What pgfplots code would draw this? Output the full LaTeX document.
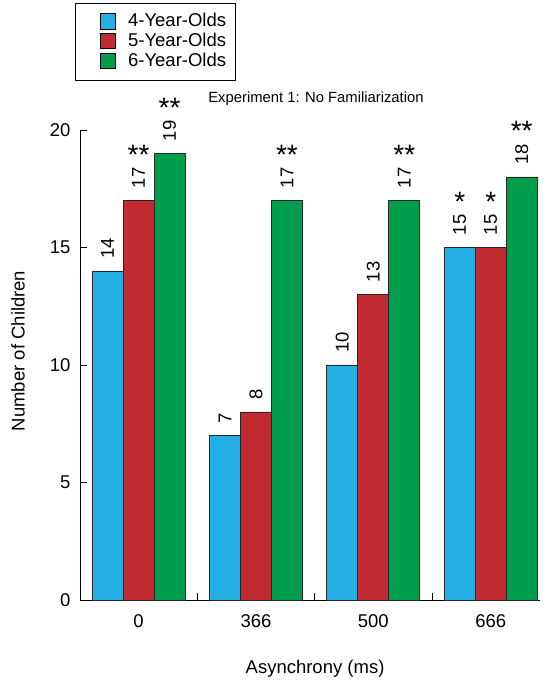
\documentclass[border=0pt]{standalone}
\usepackage{pgfplots}
\usepackage{pgfplotstable}
\pgfplotsset{compat=1.18}
\usepackage{fontspec}
\setmainfont{Liberation Sans}
\setsansfont{Liberation Sans}
\definecolor{cblue}{RGB}{35,175,228}
\definecolor{cred}{RGB}{192,42,48}
\definecolor{cgreen}{RGB}{0,158,76}
\newcommand{\bigfont}{\fontsize{18.5}{21}\selectfont}
\pgfplotstableread{
x y
0 14
1 7
2 10
3 15
}\fouryr
\pgfplotstableread{
x y
0 17
1 8
2 13
3 15
}\fiveyr
\pgfplotstableread{
x y
0 19
1 17
2 17
3 18
}\sixyr
\pgfplotsset{
  sqlegend/.style={legend image code/.code={
    \path (0pt,-9.5pt) (31pt,9.5pt);
    \filldraw[##1,draw=black,line width=0.7pt] (16pt,-6.5pt) rectangle (31pt,9pt);}},
  numlab/.style={nodes near coords, point meta=explicit symbolic,
    every node near coord/.append style={anchor=west, rotate=90, inner sep=0pt, xshift=12pt, font=\bigfont, black}},
  stars/.style={draw=none, fill=none, forget plot, nodes near coords,
    point meta=explicit symbolic,
    every node near coord/.append style={anchor=base, inner sep=0pt, yshift=36pt, font=\fontsize{28}{30}\selectfont, black}}
}
\begin{document}
\begin{tikzpicture}
\begin{axis}[
  scale only axis, width=460pt, height=470pt,
  xmin=-0.499, xmax=3.42, ymin=0, ymax=20,
  axis x line*=bottom, axis y line*=left,
  ybar=0pt, bar width=0.264,
  xtick={0.5,1.5,2.5}, xticklabels={},
  extra x ticks={0,1,2,3}, extra x tick labels={0,366,500,666},
  extra x tick style={major tick length=0pt},
  ytick={0,5,10,15,20},
  tick align=inside, major tick length=7pt,
  tick style={black, line width=0.8pt},
  axis line style={black, line width=0.8pt},
  /pgf/number format/assume math mode=true,
  tick label style={font=\bigfont},
  yticklabel style={xshift=-6pt},
  xticklabel style={yshift=-11pt},
  xlabel={Asynchrony (ms)}, ylabel={Number of Children},
  label style={font=\bigfont},
  xlabel style={at={(axis description cs:0.511,-0.147)}, anchor=center},
  ylabel style={at={(axis description cs:-0.135,0.53)}, anchor=center},
  title={Experiment 1: No Familiarization},
  title style={at={(axis description cs:0.513,1.053)}, anchor=center, font=\fontsize{14.8}{17}\selectfont},
  legend style={at={(axis description cs:-0.0109,1.104)}, anchor=south west,
    draw=black, line width=0.8pt, inner xsep=9pt, inner ysep=9pt, row sep=0pt,
    font=\bigfont, nodes={inner xsep=0pt, inner ysep=0pt, text height=14pt, text depth=5pt}},
  legend cell align=left,
  /tikz/every odd column/.append style={column sep=12pt},
  clip=false,
]
\addplot[fill=cblue, draw=black!85, line width=0.7pt, bar shift=-0.264, sqlegend, numlab]
  table[x=x,y=y,meta=y] {\fouryr};
\addplot[fill=cred, draw=black!85, line width=0.7pt, bar shift=0, sqlegend, numlab]
  table[x=x,y=y,meta=y] {\fiveyr};
\addplot[fill=cgreen, draw=black!85, line width=0.7pt, bar shift=0.264, sqlegend, numlab]
  table[x=x,y=y,meta=y] {\sixyr};
\legend{4-Year-Olds,5-Year-Olds,6-Year-Olds}
% significance stars
\addplot[stars, bar shift=-0.264] coordinates {(3,15) [*]};
\addplot[stars, bar shift=0] coordinates {(0,17) [**] (3,15) [*]};
\addplot[stars, bar shift=0.264] coordinates {(0,19) [**] (1,17) [**] (2,17) [**] (3,18) [**]};
\end{axis}
\pgfresetboundingbox
\path ([xshift=-80pt,yshift=-82pt]current axis.south west) rectangle ([xshift=8pt,yshift=130pt]current axis.north east);
\end{tikzpicture}
\end{document}
